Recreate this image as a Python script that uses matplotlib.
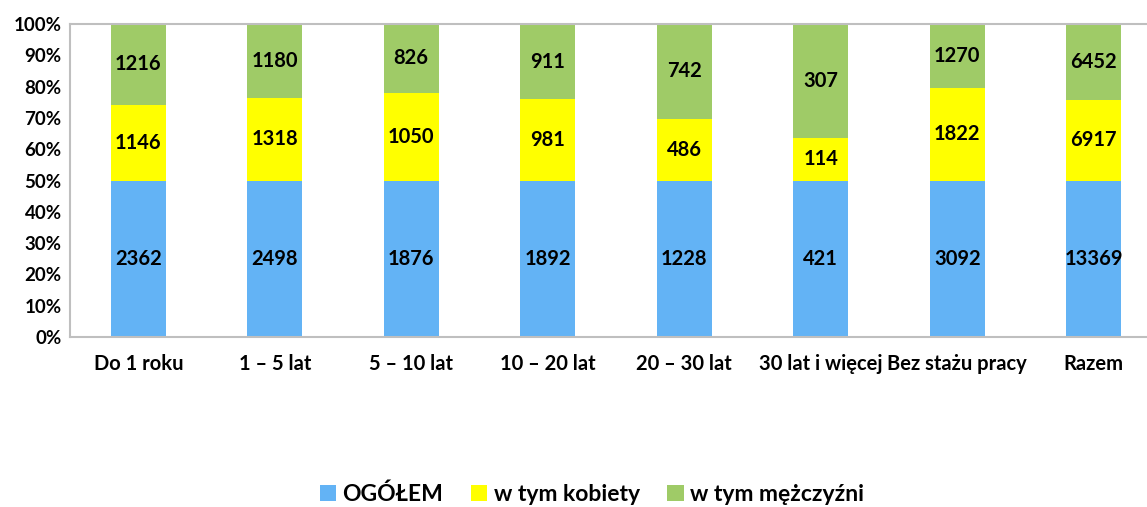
import numpy as np
import matplotlib.pyplot as plt
from matplotlib.ticker import PercentFormatter

plt.rcParams['font.family'] = ['Lato', 'DejaVu Sans']

categories = ["Do 1 roku", "1 – 5 lat", "5 – 10 lat", "10 – 20 lat", "20 – 30 lat",
              "30 lat i więcej", "Bez stażu pracy", "Razem"]
ogolem = [2362, 2498, 1876, 1892, 1228, 421, 3092, 13369]
kobiety = [1146, 1318, 1050, 981, 486, 114, 1822, 6917]
mezczyzni = [1216, 1180, 826, 911, 742, 307, 1270, 6452]

series = [("OGÓŁEM", ogolem, "#63B3F5"),
          ("w tym kobiety", kobiety, "#FFFF00"),
          ("w tym mężczyźni", mezczyzni, "#9FCB67")]

totals = np.array(ogolem) + np.array(kobiety) + np.array(mezczyzni)

fig = plt.figure(figsize=(11.47, 5.07), dpi=100)
ax = fig.add_axes([70 / 1147, 170 / 507, 1077 / 1147, 313 / 507])

x = np.arange(len(categories))
bottom = np.zeros(len(categories))
for name, vals, color in series:
    share = np.array(vals) / totals
    ax.bar(x, share, 0.4, bottom=bottom, color=color, label=name)
    for xi, b, s, v in zip(x, bottom, share, vals):
        ax.text(xi, b + s / 2, str(v), ha='center', va='center',
                fontsize=14.5, fontweight='bold')
    bottom += share

ax.set_xlim(-0.5, -0.5 + 1077 / 136.5)
ax.set_ylim(0, 1)
ax.set_yticks(np.arange(0, 1.01, 0.1))
ax.yaxis.set_major_formatter(PercentFormatter(1.0, decimals=0))
ax.set_xticks(x)
ax.set_xticklabels(categories)
ax.tick_params(length=0)
ax.tick_params(axis='y', labelsize=13.5, pad=6)
ax.tick_params(axis='x', labelsize=14.5, pad=12)
for lbl in ax.get_xticklabels() + ax.get_yticklabels():
    lbl.set_fontweight('bold')

for side in ['left', 'top', 'bottom']:
    ax.spines[side].set_color('#BFBFBF')
    ax.spines[side].set_linewidth(1.5)
ax.spines['right'].set_visible(False)

fig.legend(loc='center', bbox_to_anchor=(592 / 1147, 1 - 494 / 507), ncol=3,
           frameon=False, handlelength=0.7, handleheight=0.7, handletextpad=0.3,
           columnspacing=1.2, prop={'size': 16.5, 'weight': 'bold'})

fig.savefig('out.png', dpi=100)
